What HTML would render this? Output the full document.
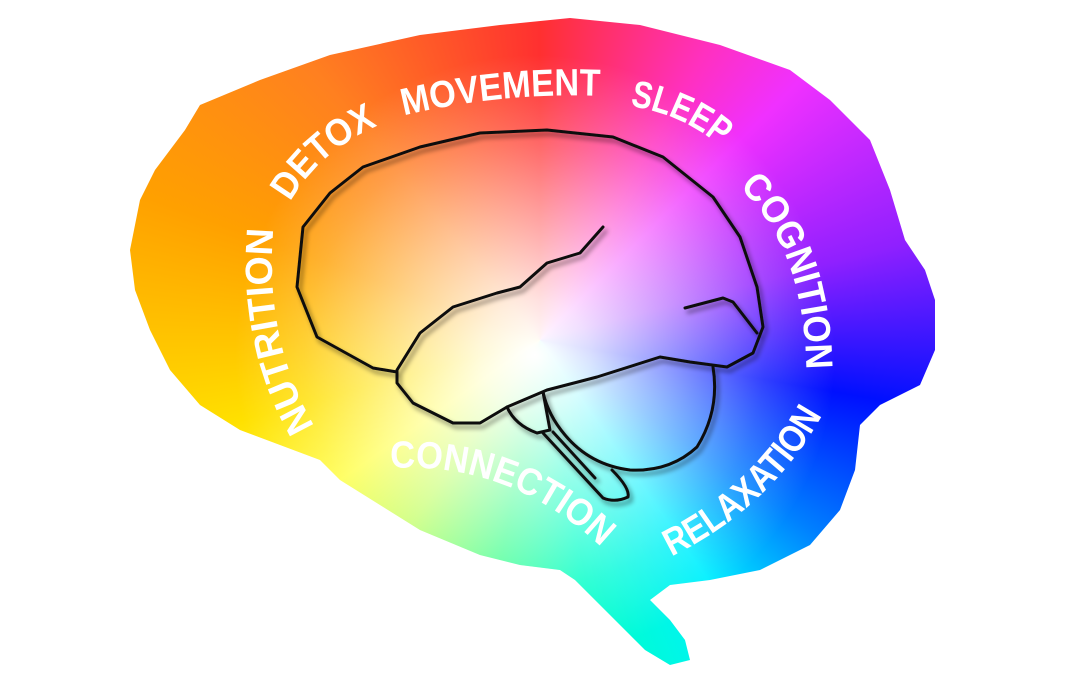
<!DOCTYPE html>
<html><head><meta charset="utf-8"><style>
html,body{margin:0;padding:0;background:#fff;width:1080px;height:675px;overflow:hidden}
.bg{position:absolute;left:0;top:0;width:1080px;height:675px;
background:radial-gradient(circle at 535px 355px,rgba(255,255,255,1) 0,rgba(255,255,255,.85) 55px,rgba(255,255,255,.5) 150px,rgba(255,255,255,.2) 230px,rgba(255,255,255,0) 300px),
conic-gradient(from 0deg at 540px 340px,#ff3030 0deg,#ff30c0 30deg,#f030ff 45deg,#9020ff 75deg,#0010ff 100deg,#0080ff 125deg,#00f0ff 145deg,#00ffc8 170deg,#40ff90 190deg,#c0ff60 215deg,#ffff40 235deg,#ffe000 255deg,#ffa000 290deg,#ff8020 320deg,#ff3030 360deg);
clip-path:path('M 200,105 L 260,80 L 330,55 L 420,35 L 500,25 L 570,18 L 640,25 L 720,45 L 790,70 L 830,100 L 870,140 L 890,190 L 905,240 L 925,270 L 935,300 L 935,350 L 920,385 L 880,405 L 860,425 L 855,470 L 840,510 L 810,545 L 760,570 L 710,580 L 670,585 L 650,600 L 670,620 L 685,640 L 690,660 L 670,665 L 645,650 L 620,625 L 595,600 L 575,580 L 560,570 L 520,565 L 480,555 L 420,530 L 380,505 L 340,480 L 320,460 L 280,445 L 240,430 L 200,405 L 170,370 L 150,330 L 135,290 L 130,250 L 140,200 L 155,170 L 185,130 Z')}
svg{position:absolute;left:0;top:0}
text{font-family:"Liberation Sans",sans-serif;font-weight:bold;fill:#fff;font-size:38px}
</style></head><body>
<div class="bg"></div>
<svg width="1080" height="675" viewBox="0 0 1080 675">
<defs>
<filter id="sh" x="-10%" y="-10%" width="120%" height="120%"><feDropShadow dx="3" dy="4" stdDeviation="2.5" flood-color="#000" flood-opacity="0.45"/></filter>
<path id="p1" d="M 318,432 Q 262,340 274,222"/>
<path id="p2" d="M 288,206 Q 318,150 382,124"/>
<path id="p3" d="M 402,116 Q 500,92 602,96"/>
<path id="p4" d="M 630,106 Q 682,114 720,146"/>
<path id="p5" d="M 746,194 Q 802,252 806,360"/>
<path id="p6" d="M 664,560 Q 772,510 826,408"/>
<path id="p7" d="M 392,468 Q 510,462 600,546"/>
</defs>
<g fill="none" stroke="#111" stroke-width="3" stroke-linejoin="round" stroke-linecap="round" filter="url(#sh)">
<path d="M 397,372 L 373,368 L 317,337 L 297,287 L 303,227 L 330,193 L 363,167 L 420,147 L 480,133 L 547,130 L 613,137 L 663,157 L 713,197 L 740,237 L 757,287 L 763,327 L 753,353 L 727,367 L 690,362 L 660,357 L 597,377 L 547,390 L 507,407 L 480,423 L 453,423 L 413,403 L 397,383 L 397,370 L 420,333 L 453,307 L 497,293 L 520,287 L 547,263 L 580,253 L 603,227"/>
<path d="M 685,308 L 723,298 L 733,302 L 757,333"/>
<path d="M 713,367 Q 720,410 697,447 Q 670,472 630,470 Q 590,465 565,435 Q 548,415 543,392"/>
<path d="M 507,407 Q 515,425 537,433 L 550,430 L 543,392"/>
<path d="M 543,433 L 603,498 Q 615,503 628,497 Q 630,488 612,470"/>
<path d="M 553,432 L 595,478"/>
</g>
<text><textPath href="#p1" startOffset="50%" text-anchor="middle" textLength="205" lengthAdjust="spacingAndGlyphs">NUTRITION</textPath></text>
<text><textPath href="#p2" startOffset="50%" text-anchor="middle" textLength="118" lengthAdjust="spacingAndGlyphs">DETOX</textPath></text>
<text><textPath href="#p3" startOffset="50%" text-anchor="middle" textLength="198" lengthAdjust="spacingAndGlyphs">MOVEMENT</textPath></text>
<text><textPath href="#p4" startOffset="50%" text-anchor="middle" textLength="100" lengthAdjust="spacingAndGlyphs">SLEEP</textPath></text>
<text><textPath href="#p5" startOffset="50%" text-anchor="middle" textLength="200" lengthAdjust="spacingAndGlyphs">COGNITION</textPath></text>
<text><textPath href="#p6" startOffset="50%" text-anchor="middle" textLength="210" lengthAdjust="spacingAndGlyphs">RELAXATION</textPath></text>
<text><textPath href="#p7" startOffset="50%" text-anchor="middle" textLength="232" lengthAdjust="spacingAndGlyphs">CONNECTION</textPath></text>
</svg>
</body></html>
